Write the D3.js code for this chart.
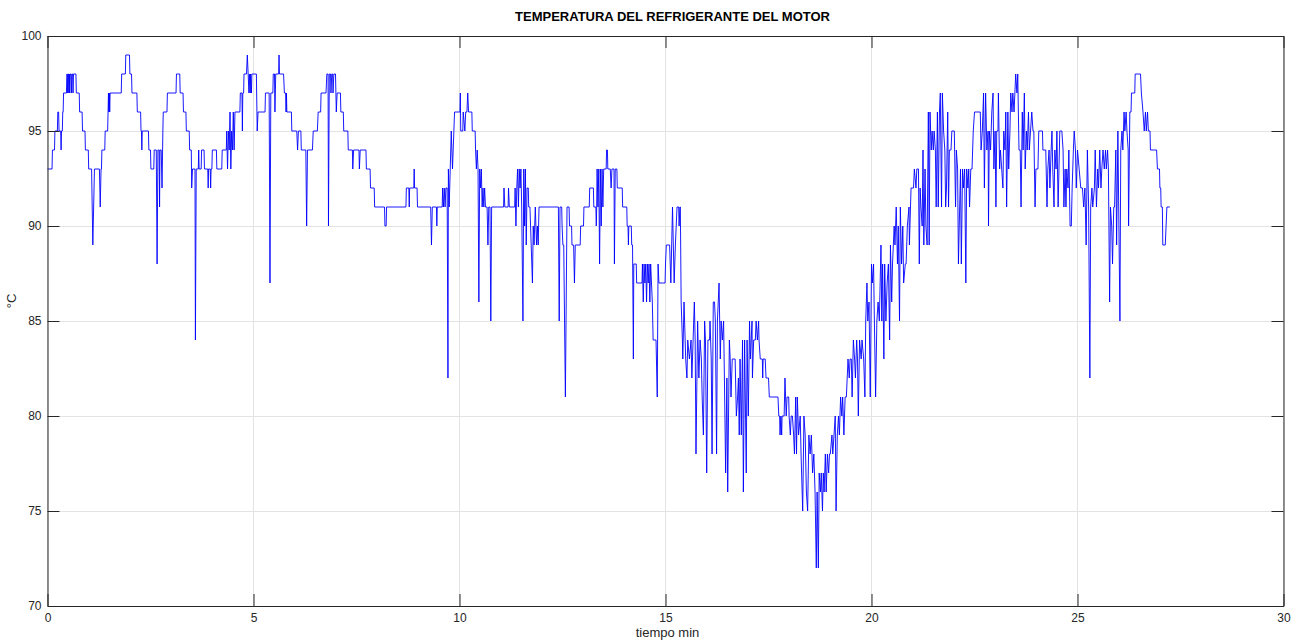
<!DOCTYPE html>
<html>
<head>
<meta charset="utf-8">
<script src="https://cdn.jsdelivr.net/npm/d3@7"></script>
<style>
  html, body { margin: 0; padding: 0; background: #ffffff; }
  svg { display: block; }
  text { font-family: "Liberation Sans", Arial, Helvetica, sans-serif; }
</style>
</head>
<body>
<svg id="chart" width="1301" height="641"></svg>
<script>
// Engine coolant temperature log: [minutes, °C]
const coolantReadings = [
  [0,93],[0.11,93],[0.12,94],[0.17,94],[0.18,95],[0.24,95],[0.25,96],[0.27,96],[0.28,95],[0.32,95],[0.33,94],[0.34,95],[0.36,95],[0.37,96],[0.38,96],[0.39,97],[0.46,97],[0.47,98],[0.48,98],[0.49,97],[0.50,98],[0.51,98],[0.52,97],[0.53,98],[0.54,97],[0.55,98],[0.57,98],[0.58,97],[0.59,98],[0.61,98],[0.62,97],[0.63,98],[0.69,98],[0.70,97],[0.77,97],[0.78,96],[0.84,96],[0.85,95],[0.91,95],[0.92,94],[0.99,94],[1.00,93],[1.07,93],[1.10,89],[1.14,93],[1.26,93],[1.28,91],[1.30,93],[1.31,93],[1.32,94],[1.39,94],[1.40,95],[1.46,95],[1.47,96],[1.48,97],[1.49,96],[1.50,97],[1.51,96],[1.52,97],[1.79,97],[1.80,98],[1.89,98],[1.90,99],[1.99,99],[2.00,98],[2.04,98],[2.05,97],[2.17,97],[2.18,96],[2.26,96],[2.27,95],[2.28,95],[2.29,94],[2.30,95],[2.45,95],[2.46,94],[2.50,94],[2.51,93],[2.58,93],[2.59,94],[2.64,94],[2.66,88],[2.68,94],[2.71,94],[2.72,91],[2.73,94],[2.76,94],[2.78,92],[2.80,95],[2.81,96],
  [2.90,96],[2.91,97],[3.12,97],[3.13,98],[3.21,98],[3.22,97],[3.29,97],[3.30,96],[3.36,96],[3.37,95],[3.44,95],[3.45,94],[3.49,94],[3.50,92],[3.52,93],[3.58,93],[3.59,84],[3.61,93],[3.66,93],[3.67,94],[3.68,93],[3.73,93],[3.74,94],[3.80,94],[3.81,93],[3.89,93],[3.90,92],[3.91,93],[3.95,93],[3.96,92],[3.97,93],[3.99,93],[4.00,94],[4.10,94],[4.11,93],[4.23,93],[4.24,94],[4.34,94],[4.35,95],[4.37,93],[4.39,95],[4.41,94],[4.43,96],[4.45,93],[4.47,95],[4.49,94],[4.51,96],[4.53,94],[4.55,96],[4.67,96],[4.68,97],[4.72,97],[4.73,95],[4.74,97],[4.76,97],[4.77,98],[4.83,98],[4.85,99],[4.87,98],[4.89,97],[4.90,98],[4.92,97],[4.93,98],[4.95,97],[4.96,98],[5.07,98],[5.09,95],[5.11,96],[5.28,96],[5.29,97],[5.38,97],[5.40,87],[5.42,97],[5.47,97],[5.48,98],[5.51,98],[5.52,96],[5.54,98],
  [5.61,98],[5.62,99],[5.63,98],[5.73,98],[5.75,97],[5.78,97],[5.79,96],[5.80,97],[5.81,96],[5.92,96],[5.93,95],[6.05,95],[6.07,94],[6.09,95],[6.15,95],[6.16,94],[6.27,94],[6.29,90],[6.31,94],[6.43,94],[6.45,95],[6.55,95],[6.57,96],[6.63,96],[6.64,97],[6.76,97],[6.78,98],[6.81,98],[6.82,90],[6.84,98],[6.87,98],[6.88,97],[6.90,98],[6.92,98],[6.93,97],[6.95,98],[6.99,98],[7.00,97],[7.01,96],[7.03,97],[7.11,97],[7.12,96],[7.18,96],[7.19,95],[7.29,95],[7.30,94],[7.40,94],[7.41,93],[7.43,94],[7.56,94],[7.57,93],[7.59,94],[7.73,94],[7.74,93],[7.83,93],[7.84,92],[7.93,92],[7.94,91],[8.18,91],[8.19,90],[8.22,90],[8.23,91],
  [8.70,91],[8.71,92],[8.77,92],[8.78,91],[8.79,92],[8.89,92],[8.90,93],[8.91,92],[8.97,92],[8.98,91],[9.30,91],[9.32,89],[9.34,91],[9.44,91],[9.45,90],[9.46,91],[9.58,91],[9.59,92],[9.61,91],[9.63,92],[9.65,91],[9.67,92],[9.70,92],[9.72,82],[9.73,93],[9.75,91],[9.80,95],[9.83,93],[9.88,96],[10.01,96],[10.02,97],[10.03,95],[10.08,95],[10.09,96],[10.13,95],[10.15,96],[10.18,96],[10.20,97],[10.22,96],[10.30,96],[10.31,95],[10.38,95],[10.39,94],[10.41,93],[10.43,94],[10.45,93],[10.47,86],[10.49,93],[10.51,92],[10.53,93],[10.55,91],[10.57,92],[10.59,91],[10.61,92],[10.63,91],[10.67,91],[10.69,89],[10.71,91],[10.74,91],[10.76,85],[10.78,91],[11.07,91],[11.08,92],[11.10,91],[11.18,91],[11.19,92],[11.21,91],
  [11.34,91],[11.35,92],[11.37,90],[11.39,92],[11.41,93],[11.43,91],[11.45,93],[11.47,92],[11.49,93],[11.51,91],[11.54,85],[11.56,93],[11.58,90],[11.60,93],[11.62,89],[11.64,92],[11.67,92],[11.68,91],[11.71,91],[11.77,87],[11.79,90],[11.81,89],[11.84,91],[11.87,89],[11.89,90],[11.91,89],[11.93,91],[12.40,91],[12.42,85],[12.44,91],[12.48,91],[12.49,90],[12.51,89],[12.53,89],[12.57,81],[12.61,91],[12.66,91],[12.67,90],[12.72,90],[12.73,89],[12.77,89],[12.79,87],[12.81,89],[12.93,89],[12.94,90],[13.01,90],[13.02,91],[13.15,91],[13.16,92],[13.25,92],[13.26,91],[13.31,91],[13.32,90],[13.33,91],[13.34,93],[13.36,91],[13.38,93],[13.40,88],[13.42,93],[13.44,90],[13.46,93],[13.48,91],[13.50,93],[13.56,93],[13.57,94],[13.59,94],[13.60,93],[13.66,93],[13.68,92],[13.70,93],[13.75,93],[13.76,88],[13.78,93],[13.82,93],[13.83,92],[13.95,92],[13.96,91],
  [14.06,91],[14.07,90],[14.09,90],[14.10,89],[14.11,90],[14.17,90],[14.18,89],[14.20,89],[14.22,83],[14.23,88],[14.29,88],[14.30,87],[14.43,87],[14.44,88],[14.46,86],[14.48,88],[14.50,87],[14.52,88],[14.54,86],[14.56,88],[14.58,87],[14.60,88],[14.62,86],[14.64,88],[14.66,87],[14.68,86],[14.70,84],[14.77,84],[14.80,81],[14.82,88],[14.84,87],[14.99,87],[15.00,88],[15.02,89],[15.10,89],[15.13,87],[15.17,91],[15.19,89],[15.21,87],[15.24,89],[15.28,91],[15.32,91],[15.33,90],[15.35,91],[15.36,91],[15.38,86],[15.41,84],[15.42,83],[15.45,86],[15.49,83],[15.52,82],[15.54,84],[15.58,83],[15.62,84],[15.64,82],[15.67,84],[15.70,86],[15.72,84],[15.74,78],[15.78,85],[15.81,82],[15.84,84],[15.87,83],[15.89,81],[15.92,79],[15.95,85],[15.97,84],[16.00,77],[16.03,84],[16.07,84],[16.08,85],[16.11,83],[16.13,78],[16.16,86],[16.19,86],[16.21,85],[16.24,78],[16.26,85],[16.30,87],[16.33,83],[16.35,85],[16.38,84],[16.41,85],[16.43,82],[16.46,77],[16.49,82],[16.51,76],[16.55,84],[16.57,83],[16.59,81],[16.62,83],[16.69,83],[16.72,80],
  [16.75,81],[16.77,82],[16.79,79],[16.81,83],[16.84,79],[16.87,84],[16.89,76],[16.92,84],[16.96,77],[16.98,84],[17.01,80],[17.04,85],[17.06,83],[17.10,85],[17.11,82],[17.14,84],[17.18,84],[17.20,85],[17.23,84],[17.26,85],[17.27,84],[17.30,83],[17.35,83],[17.36,82],[17.37,83],[17.42,83],[17.44,82],[17.50,82],[17.52,81],[17.73,81],[17.75,80],[17.77,80],[17.78,79],[17.80,80],[17.82,79],[17.83,80],[17.88,80],[17.90,82],[17.93,80],[17.95,81],[17.99,81],[18.00,80],[18.03,79],[18.05,80],[18.08,80],[18.11,79],[18.13,78],[18.16,81],[18.18,78],[18.20,81],[18.23,79],[18.27,80],[18.29,78],[18.33,75],[18.36,80],[18.39,79],[18.42,76],[18.45,75],[18.48,79],[18.51,78],[18.54,79],[18.57,77],[18.60,78],[18.63,76],[18.66,72],[18.68,76],[18.71,72],[18.73,77],[18.76,76],[18.78,77],[18.81,75],[18.83,77],[18.85,76],[18.88,78],[18.90,76],[18.93,78],[18.96,77],[18.98,78],[19.00,78],[19.04,79],[19.06,78],[19.09,79],[19.12,80],[19.14,75],[19.17,79],[19.20,80],[19.22,79],[19.25,81],[19.28,80],[19.30,81],[19.33,79],[19.36,81],[19.39,81],[19.41,82],[19.43,83],[19.46,82],[19.48,83],[19.51,83],[19.53,81],[19.56,84],[19.59,83],
  [19.61,82],[19.64,84],[19.66,83],[19.68,80],[19.71,84],[19.75,83],[19.77,84],[19.81,83],[19.84,81],[19.86,85],[19.89,87],[19.91,85],[19.94,86],[19.97,81],[20.00,88],[20.02,87],[20.05,88],[20.07,85],[20.10,81],[20.13,85],[20.16,86],[20.19,85],[20.23,89],[20.25,85],[20.27,88],[20.30,83],[20.32,88],[20.35,85],[20.38,87],[20.41,88],[20.44,84],[20.46,89],[20.49,86],[20.51,88],[20.55,90],[20.57,89],[20.60,91],[20.63,88],[20.65,90],[20.68,85],[20.70,91],[20.73,88],[20.76,90],[20.78,87],[20.82,88],[20.84,88],[20.87,90],[20.91,91],[20.92,89],[20.96,92],[21.02,92],[21.04,93],[21.08,92],[21.10,93],[21.14,93],[21.16,88],[21.18,92],[21.20,91],[21.23,90],[21.25,94],[21.27,89],[21.30,93],[21.32,90],[21.35,89],[21.38,96],[21.40,89],[21.42,96],[21.45,94],[21.47,95],[21.50,94],[21.52,95],[21.55,94],[21.57,91],[21.60,96],[21.62,91],[21.65,96],[21.67,97],[21.70,91],[21.72,97],[21.75,95],[21.78,94],[21.80,91],[21.82,92],[21.85,96],[21.87,91],[21.89,94],[21.93,94],[21.95,95],[22.01,95],[22.04,91],[22.06,94],[22.09,93],[22.11,88],[22.13,90],[22.16,93],[22.18,88],[22.21,93],[22.23,92],[22.26,93],[22.29,87],[22.31,93],[22.34,92],[22.36,93],[22.38,91],[22.41,93],
  [22.44,93],[22.47,95],[22.50,96],[22.64,96],[22.66,94],[22.69,95],[22.72,97],[22.74,92],[22.77,97],[22.80,94],[22.83,95],[22.84,90],[22.86,95],[22.89,94],[22.92,96],[22.95,97],[22.97,93],[23.00,95],[23.02,91],[23.04,95],[23.07,95],[23.08,97],[23.11,93],[23.13,94],[23.16,93],[23.19,92],[23.21,95],[23.24,94],[23.26,96],[23.28,91],[23.31,96],[23.33,93],[23.36,95],[23.38,97],[23.41,96],[23.43,97],[23.46,96],[23.48,97],[23.50,98],[23.53,97],[23.55,98],[23.58,94],[23.61,94],[23.63,91],[23.66,96],[23.68,94],[23.71,97],[23.73,93],[23.76,95],[23.78,94],[23.81,96],[23.83,94],[23.86,95],[23.89,96],[23.92,95],[23.94,95],[23.97,91],[23.99,93],[24.04,93],[24.06,95],[24.15,95],[24.16,94],[24.23,94],[24.26,91],[24.28,93],[24.31,94],[24.33,92],[24.36,94],[24.38,95],[24.40,93],[24.43,91],[24.45,94],[24.48,93],[24.50,95],[24.53,91],[24.55,93],[24.57,95],[24.62,95],[24.65,94],[24.67,91],[24.70,93],[24.72,91],[24.74,93],[24.77,92],[24.79,94],[24.82,90],[24.85,90],[24.87,92],[24.90,94],[24.92,95],[24.95,94],[24.97,92],[25.00,94],
  [25.04,93],[25.08,92],[25.12,92],[25.15,91],[25.18,92],[25.21,89],[25.24,94],[25.27,91],[25.30,82],[25.32,91],[25.35,92],[25.37,91],[25.41,92],[25.43,94],[25.46,91],[25.49,93],[25.51,92],[25.54,94],[25.57,92],[25.59,93],[25.62,94],[25.65,93],[25.68,94],[25.70,93],[25.73,94],[25.75,93],[25.78,86],[25.80,91],[25.83,90],[25.85,88],[25.88,91],[25.90,91],[25.93,94],[25.95,89],[25.98,95],[26.00,91],[26.03,85],[26.05,94],[26.08,95],[26.10,94],[26.13,96],[26.15,95],[26.18,96],[26.20,95],[26.23,94],[26.24,90],[26.27,96],[26.30,96],[26.31,97],[26.39,97],[26.40,98],[26.53,98],[26.55,97],[26.59,96],[26.62,95],[26.65,96],[26.67,95],[26.70,96],[26.72,95],[26.76,95],[26.77,94],[26.92,94],[26.94,93],[26.99,93],[27.00,92],[27.02,92],[27.03,91],[27.06,91],[27.07,89],[27.13,89],[27.15,90],[27.17,91],[27.24,91]
];

const chartTitle = "TEMPERATURA DEL REFRIGERANTE DEL MOTOR";
const xAxisTitle = "tiempo min";
const yAxisTitle = "°C";
const xDomain = [0, 30];
const yDomain = [70, 100];
const xTickValues = [0, 5, 10, 15, 20, 25, 30];
const yTickValues = [70, 75, 80, 85, 90, 95, 100];

const plot = { left: 47.5, right: 1283.5, top: 36, bottom: 606 };
const axisColor = "#262626";
const gridColor = "#e3e3e3";
const tickLen = 12;

const svg = d3.select("#chart");

const x = d3.scaleLinear().domain(xDomain).range([plot.left, plot.right]);
const y = d3.scaleLinear().domain(yDomain).range([plot.bottom, plot.top]);

// grid
const grid = svg.append("g").attr("shape-rendering", "crispEdges");
grid.selectAll("line.gx").data(xTickValues).join("line")
  .attr("x1", d => x(d)).attr("x2", d => x(d))
  .attr("y1", plot.top).attr("y2", plot.bottom)
  .attr("stroke", gridColor).attr("stroke-width", 1);
grid.selectAll("line.gy").data(yTickValues).join("line")
  .attr("x1", plot.left).attr("x2", plot.right)
  .attr("y1", d => y(d)).attr("y2", d => y(d))
  .attr("stroke", gridColor).attr("stroke-width", 1);

// series
const line = d3.line().x(d => x(d[0])).y(d => y(d[1]));
svg.append("path")
  .datum(coolantReadings)
  .attr("fill", "none")
  .attr("stroke", "#0000ff")
  .attr("stroke-width", 0.9)
  .attr("stroke-linejoin", "round")
  .attr("d", line);

// axes (ticks pointing inward, mirrored on top and right)
function styleAxis(g) {
  g.select(".domain").attr("stroke", axisColor);
  g.selectAll(".tick line").attr("stroke", axisColor);
  g.selectAll(".tick text").attr("fill", axisColor)
    .style("font-family", "'Liberation Sans', Arial, sans-serif");
}

svg.append("g")
  .attr("transform", `translate(0,${plot.bottom})`)
  .call(d3.axisBottom(x).tickValues(xTickValues).tickFormat(d3.format("d"))
    .tickSizeInner(-tickLen).tickSizeOuter(0).tickPadding(6))
  .call(styleAxis)
  .call(g => g.selectAll(".tick text").attr("font-size", 12).attr("dy", "0.71em").attr("y", 7));

svg.append("g")
  .attr("transform", `translate(0,${plot.top})`)
  .call(d3.axisTop(x).tickValues(xTickValues).tickFormat("")
    .tickSizeInner(-tickLen).tickSizeOuter(0))
  .call(styleAxis);

svg.append("g")
  .attr("transform", `translate(${plot.left},0)`)
  .call(d3.axisLeft(y).tickValues(yTickValues).tickFormat(d3.format("d"))
    .tickSizeInner(-tickLen).tickSizeOuter(0).tickPadding(6))
  .call(styleAxis)
  .call(g => g.selectAll(".tick text").attr("font-size", 12).attr("x", -6));

svg.append("g")
  .attr("transform", `translate(${plot.right},0)`)
  .call(d3.axisRight(y).tickValues(yTickValues).tickFormat("")
    .tickSizeInner(-tickLen).tickSizeOuter(0))
  .call(styleAxis);

// titles
svg.append("text")
  .attr("x", (plot.left + plot.right) / 2 + 7)
  .attr("y", 21)
  .attr("text-anchor", "middle")
  .attr("font-size", 13)
  .attr("font-weight", "bold")
  .attr("fill", "#000")
  .text(chartTitle);

svg.append("text")
  .attr("x", (plot.left + plot.right) / 2 + 2)
  .attr("y", 637)
  .attr("text-anchor", "middle")
  .attr("font-size", 13)
  .attr("fill", axisColor)
  .text(xAxisTitle);

svg.append("text")
  .attr("transform", `translate(16,${(plot.top + plot.bottom) / 2 - 20}) rotate(-90)`)
  .attr("text-anchor", "middle")
  .attr("font-size", 13)
  .attr("fill", axisColor)
  .text(yAxisTitle);
</script>
</body>
</html>
